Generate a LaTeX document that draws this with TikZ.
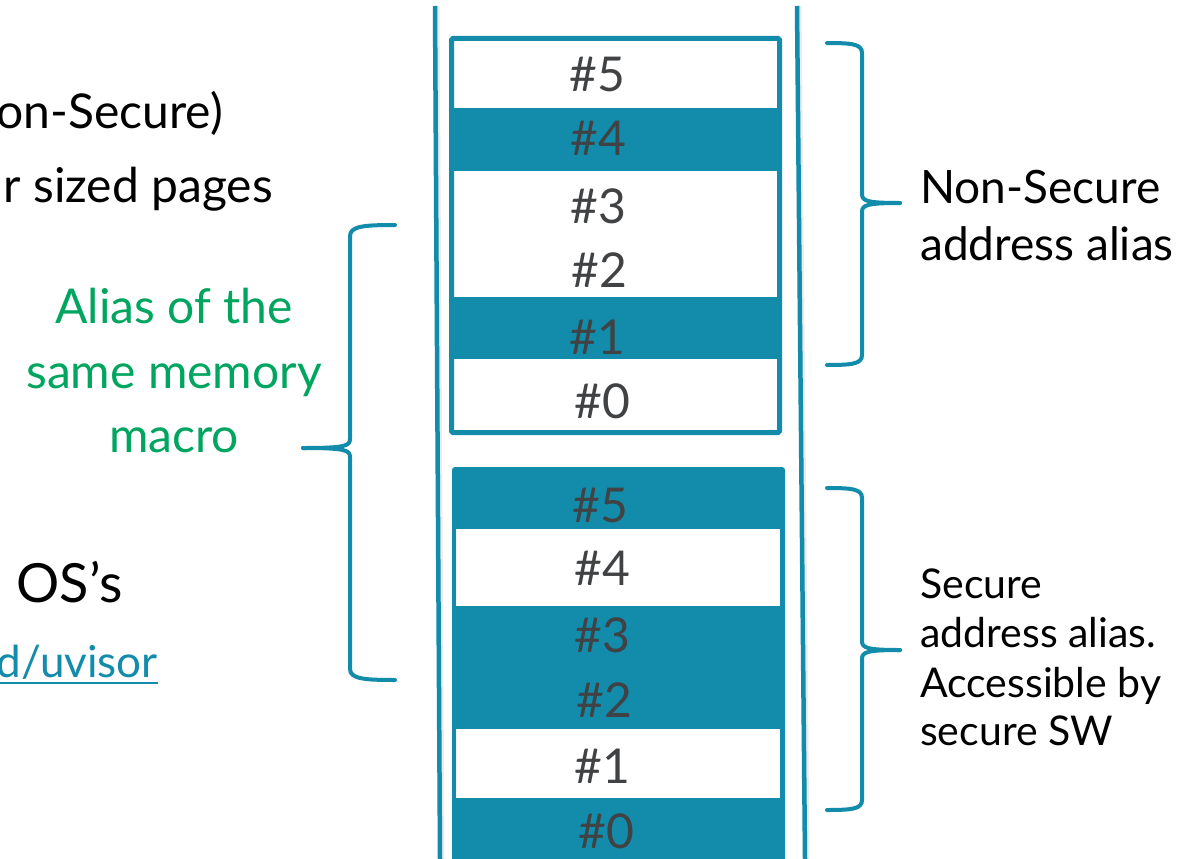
\documentclass[tikz,border=0pt]{standalone}
\usepackage{fontspec}
\setmainfont{Lato}
\definecolor{tealc}{HTML}{128CAA}
\definecolor{txtgray}{HTML}{404244}
\definecolor{aliasgreen}{HTML}{00A65F}
\newcommand{\fs}[1]{\fontsize{#1}{#1}\selectfont}
\begin{document}
\begin{tikzpicture}[x=1pt,y=-1pt,
  lbl/.style={anchor=base, inner sep=0pt, text=txtgray, font=\fs{48}},
  brace/.style={draw=tealc, line width=4pt, line cap=round, line join=round},
  rail/.style={draw=tealc, line width=4.5pt},
  railshadow/.style={draw=black!8, line width=4pt},
  bodytext/.style={inner sep=0pt, text=black},
]
\useasboundingbox (0,0) rectangle (1191,859);
\fill[white] (0,0) rectangle (1191,859);

% rails
\draw[railshadow] (437.5,6) -- (442.5,859);
\draw[railshadow] (799.5,6) -- (807.5,859);
\draw[rail] (435,6) -- (440,859);
\draw[rail] (797,6) -- (805,859);

% upper box (non-secure alias)
\draw[draw=tealc, line width=5pt, fill=white, rounded corners=1.5pt] (451.5,38.5) rectangle (779.5,432.5);
\fill[tealc] (454,108) rectangle (777,171);
\fill[tealc] (454,297) rectangle (777,359);
\node[lbl] (u5) at (597,92) {\#5};
\node[lbl] (u4) at (598,155) {\#4};
\node[lbl] (u3) at (598,223) {\#3};
\node[lbl] (u2) at (599,287) {\#2};
\node[lbl] (u1) at (597,354) {\#1};
\node[lbl] (u0) at (602,418) {\#0};

% lower box (secure alias)
\fill[tealc, rounded corners=3pt] (452,467) rectangle (785,880);
\fill[white] (456,529) rectangle (780,606);
\fill[white] (456,729) rectangle (780,798);
\node[lbl] (l5) at (600,522) {\#5};
\node[lbl] (l4) at (602,585) {\#4};
\node[lbl] (l3) at (602,652) {\#3};
\node[lbl] (l2) at (604,717) {\#2};
\node[lbl] (l1) at (602,783) {\#1};
\node[lbl] (l0) at (606,848) {\#0};

% right braces
\draw[brace] (827,43) .. controls (852,43) and (862,44) .. (862,53) -- (862,194)
  .. controls (862,201) and (867,203) .. (900,203);
\draw[brace] (900,203) .. controls (867,203) and (862,205) .. (862,212) -- (862,355)
  .. controls (862,364) and (852,365) .. (827,365);
\draw[brace] (827,488) .. controls (852,488) and (862,489) .. (862,498) -- (862,641)
  .. controls (862,648) and (867,650) .. (900,650);
\draw[brace] (900,650) .. controls (867,650) and (862,652) .. (862,659) -- (862,800)
  .. controls (862,809) and (852,810) .. (827,810);

% left brace
\draw[brace] (395,225) .. controls (365,225) and (350,226) .. (350,236) -- (350,439)
  .. controls (350,446) and (345,448) .. (303,448);
\draw[brace] (303,448) .. controls (345,448) and (350,450) .. (350,457) -- (350,669)
  .. controls (350,679) and (365,680) .. (395,680);

% right labels
\node[bodytext, anchor=base west, font=\fs{46}] (ns1) at (920,203) {Non-Secure};
\node[bodytext, anchor=base west, font=\fs{46}] (ns2) at (920,260) {address alias};
\node[bodytext, anchor=base west, font=\fs{41}] (s1) at (920,598) {Secure};
\node[bodytext, anchor=base west, font=\fs{41}] (s2) at (920,647) {address alias.};
\node[bodytext, anchor=base west, font=\fs{41}] (s3) at (920,697) {Accessible by};
\node[bodytext, anchor=base west, font=\fs{41}] (s4) at (920,745) {secure SW};

% green label
\node[inner sep=0pt, anchor=base, text=aliasgreen, font=\fs{48}] (g1) at (174,323) {Alias of the};
\node[inner sep=0pt, anchor=base, text=aliasgreen, font=\fs{48}] (g2) at (174,388) {same memory};
\node[inner sep=0pt, anchor=base, text=aliasgreen, font=\fs{48}] (g3) at (174,452) {macro};

% left cut-off body text
\node[bodytext, anchor=base east, font=\fs{48}] (t1) at (223,128) {on-Secure)};
\node[bodytext, anchor=base east, font=\fs{48}] (t2) at (273,202) {r sized pages};
\node[bodytext, anchor=base east, font=\fs{54}] (t3) at (123,602) {OS’s};
\node[inner sep=0pt, anchor=base east, text=tealc, font=\fs{44}] (t4) at (158,677) {d/uvisor};
\draw[tealc, line width=2pt] (0,683) -- (t4.base east |- 0,683);
\end{tikzpicture}
\end{document}
